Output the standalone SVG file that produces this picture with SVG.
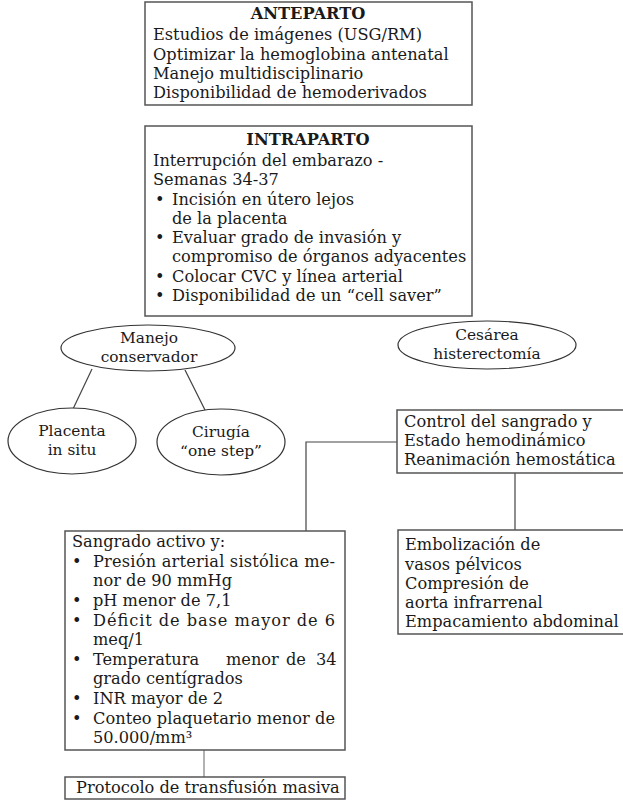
<svg xmlns="http://www.w3.org/2000/svg" width="623" height="800" viewBox="0 0 623 800">
<style>
text{font-family:"DejaVu Serif","Liberation Serif",serif;font-size:16.2px;fill:#1a1a1a}
.b{font-weight:bold}
.c{text-anchor:middle}
.e{font-size:15.4px}
.box{fill:#fff;stroke:#555;stroke-width:1.5}
.ell{fill:#fff;stroke:#333;stroke-width:1.2}
.con{stroke:#444;stroke-width:1.2;fill:none}
.con2{stroke:#999;stroke-width:1.5;fill:none}
</style>
<rect width="623" height="800" fill="#fff"/>
<g id="connectors">
<line class="con" x1="92" y1="369" x2="73" y2="409"/>
<line class="con" x1="185" y1="370" x2="205" y2="410"/>
<polyline class="con" points="397,442 306,442 306,531"/>
<line class="con" x1="515" y1="473" x2="515" y2="530"/>
<line class="con2" x1="204" y1="750" x2="204" y2="777"/>
</g>
<g id="anteparto">
<rect class="box" x="145" y="2" width="327" height="103"/>
<text class="b c" x="308" y="19">ANTEPARTO</text>
<text x="153" y="40">Estudios de imágenes (USG/RM)</text>
<text x="153" y="60">Optimizar la hemoglobina antenatal</text>
<text x="153" y="79">Manejo multidisciplinario</text>
<text x="153" y="98">Disponibilidad de hemoderivados</text>
</g>
<g id="intraparto">
<rect class="box" x="145" y="126" width="327" height="190"/>
<text class="b c" x="308" y="145">INTRAPARTO</text>
<text x="153" y="166">Interrupción del embarazo -</text>
<text x="153" y="185">Semanas 34-37</text>
<text x="155" y="205">•</text><text x="172" y="205">Incisión en útero lejos</text>
<text x="172" y="224">de la placenta</text>
<text x="155" y="243">•</text><text x="172" y="243">Evaluar grado de invasión y</text>
<text x="172" y="262">compromiso de órganos adyacentes</text>
<text x="155" y="282">•</text><text x="172" y="282">Colocar CVC y línea arterial</text>
<text x="155" y="301">•</text><text x="172" y="301">Disponibilidad de un “cell saver”</text>
</g>
<g id="manejo">
<ellipse class="ell" cx="148" cy="348" rx="87" ry="23"/>
<text class="c e" x="149" y="343">Manejo</text>
<text class="c e" x="149" y="361.5">conservador</text>
</g>
<g id="cesarea">
<ellipse class="ell" cx="487" cy="345" rx="89" ry="24"/>
<text class="c e" x="487" y="340">Cesárea</text>
<text class="c e" x="487" y="358.5">histerectomía</text>
</g>
<g id="placenta">
<ellipse class="ell" cx="72" cy="441" rx="64" ry="33"/>
<text class="c e" x="72" y="436">Placenta</text>
<text class="c e" x="72" y="454.5">in situ</text>
</g>
<g id="cirugia">
<ellipse class="ell" cx="221" cy="442" rx="64" ry="33"/>
<text class="c e" x="221" y="437">Cirugía</text>
<text class="c e" x="221" y="455.5">“one step”</text>
</g>
<g id="control">
<rect class="box" x="397" y="410" width="232" height="63"/>
<text x="404" y="427">Control del sangrado y</text>
<text x="404" y="446">Estado hemodinámico</text>
<text x="404" y="465">Reanimación hemostática</text>
</g>
<g id="sangrado">
<rect class="box" x="65" y="531" width="280" height="219"/>
<text x="72" y="547">Sangrado activo y:</text>
<text x="72" y="567">•</text><text x="93" y="567" textLength="242" lengthAdjust="spacing">Presión arterial sistólica me-</text>
<text x="93" y="586">nor de 90 mmHg</text>
<text x="72" y="606">•</text><text x="93" y="606">pH menor de 7,1</text>
<text x="72" y="626">•</text><text x="93" y="626" textLength="242" lengthAdjust="spacing">Déficit de base mayor de 6</text>
<text x="93" y="645">meq/1</text>
<text x="72" y="665">•</text><text y="665"><tspan x="93">Temperatura</tspan><tspan x="226">menor</tspan><tspan x="286">de</tspan><tspan x="316">34</tspan></text>
<text x="93" y="684">grado centígrados</text>
<text x="72" y="704">•</text><text x="93" y="704">INR mayor de 2</text>
<text x="72" y="724">•</text><text x="93" y="724" textLength="242" lengthAdjust="spacing">Conteo plaquetario menor de</text>
<text x="93" y="743">50.000/mm³</text>
</g>
<g id="embolizacion">
<rect class="box" x="398" y="530" width="232" height="104"/>
<text x="405" y="550">Embolización de</text>
<text x="405" y="570">vasos pélvicos</text>
<text x="405" y="589">Compresión de</text>
<text x="405" y="608">aorta infrarrenal</text>
<text x="405" y="627">Empacamiento abdominal</text>
</g>
<g id="protocolo">
<rect class="box" x="65" y="777" width="280" height="22"/>
<text x="76" y="793">Protocolo de transfusión masiva</text>
</g>
</svg>
